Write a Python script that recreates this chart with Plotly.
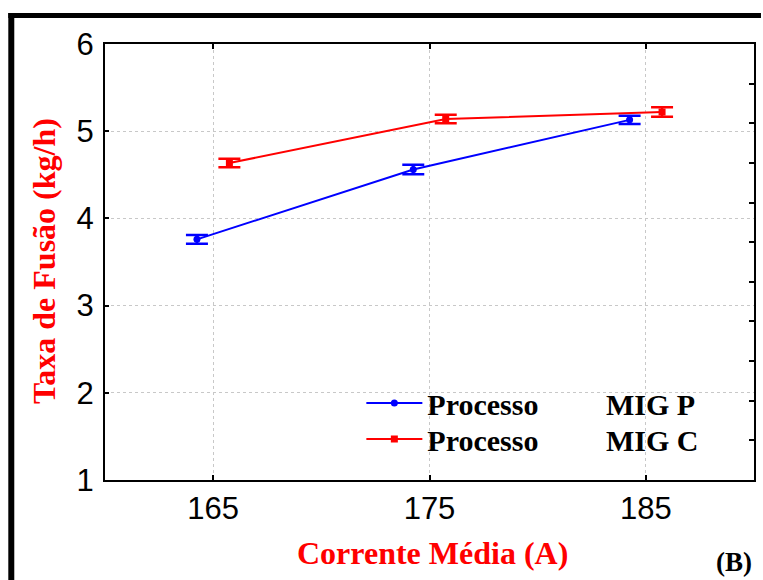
import plotly.graph_objects as go

# Data
series_names = ["Processo\u00a0\u00a0\u00a0\u00a0\u00a0\u00a0\u00a0\u00a0\u00a0MIG P",
                "Processo\u00a0\u00a0\u00a0\u00a0\u00a0\u00a0\u00a0\u00a0\u00a0MIG C"]
x_mig_p = [164.25, 174.25, 184.25]
y_mig_p = [3.76, 4.56, 5.13]
err_mig_p = [0.05, 0.055, 0.048]

x_mig_c = [165.75, 175.75, 185.75]
y_mig_c = [4.635, 5.14, 5.22]
err_mig_c = [0.048, 0.05, 0.055]

x_ticks = [165, 175, 185]
y_ticks = [1, 2, 3, 4, 5, 6]

x_title = "Corrente Média (A)"
y_title = "Taxa de Fusão (kg/h)"
panel_label = "(B)"

serif = "Liberation Serif, Times New Roman, serif"
sans = "Liberation Sans, Arial, sans-serif"

fig = go.Figure()
fig.add_trace(go.Scatter(
    x=x_mig_p, y=y_mig_p, name=series_names[0], mode="lines+markers",
    line=dict(color="#0000ff", width=2),
    marker=dict(symbol="circle", size=7, color="#0000ff"),
    error_y=dict(type="data", array=err_mig_p, color="#0000ff", thickness=2.5, width=11),
    legend="legend",
))
fig.add_trace(go.Scatter(
    x=x_mig_c, y=y_mig_c, name=series_names[1], mode="lines+markers",
    line=dict(color="#ff0000", width=2),
    marker=dict(symbol="square", size=7, color="#ff0000"),
    error_y=dict(type="data", array=err_mig_c, color="#ff0000", thickness=2.5, width=11),
    legend="legend2",
))
# empty trace so the right-hand secondary tick axis is drawn
fig.add_trace(go.Scatter(x=[], y=[], yaxis="y2", showlegend=False, hoverinfo="skip"))

grid = dict(showgrid=True, gridcolor="#c8c8c8", gridwidth=1, griddash="dot")
legend_style = dict(xanchor="left", yanchor="middle", bgcolor="rgba(0,0,0,0)",
                    borderwidth=0, itemwidth=56,
                    font=dict(family=serif, size=30, color="black", weight="bold"))

fig.update_layout(
    width=763, height=580,
    margin=dict(l=105, r=7, t=44, b=100),
    paper_bgcolor="white", plot_bgcolor="white",
    xaxis=dict(range=[160, 190], tickvals=x_ticks, ticks="inside", ticklen=5,
               tickwidth=1.5, tickcolor="black",
               showline=True, linecolor="black", linewidth=2, mirror="ticks",
               zeroline=False, ticklabelstandoff=0,
               tickfont=dict(family=sans, size=31, color="black"), **grid),
    yaxis=dict(range=[1, 6], tickvals=y_ticks, ticks="inside", ticklen=4,
               tickwidth=1.5, tickcolor="black",
               showline=True, linecolor="black", linewidth=2, mirror=True,
               zeroline=False, ticklabelstandoff=3,
               tickfont=dict(family=sans, size=31, color="black"), **grid),
    yaxis2=dict(overlaying="y", side="right", range=[0, 11], dtick=1,
                ticks="inside", ticklen=5, tickwidth=1.5, tickcolor="black",
                showticklabels=False, showgrid=False, showline=False, zeroline=False),
    legend=dict(x=0.395, y=0.1766, **legend_style),
    legend2=dict(x=0.395, y=0.094, **legend_style),
    showlegend=True,
)

fig.add_annotation(text=y_title, xref="paper", yref="paper", x=-0.094, y=0.502,
                   textangle=-90, showarrow=False, xanchor="center", yanchor="middle",
                   font=dict(family=serif, size=32, color="#ff0000", weight="bold"))
fig.add_annotation(text=x_title, xref="paper", yref="paper", x=0.505, y=-0.167,
                   showarrow=False, xanchor="center", yanchor="middle",
                   font=dict(family=serif, size=32, color="#ff0000", weight="bold"))
fig.add_annotation(text=panel_label, xref="paper", yref="paper", x=0.969, y=-0.188,
                   showarrow=False, xanchor="center", yanchor="middle",
                   font=dict(family=serif, size=27, color="black", weight="bold"))

# outer frame lines (top and left) of the figure panel
px_x = lambda p: (p - 105) / 651
px_y = lambda p: (480 - p) / 436
fig.add_shape(type="rect", xref="paper", yref="paper", x0=px_x(8), x1=px_x(763),
              y0=px_y(18), y1=px_y(13), fillcolor="black", line_width=0, layer="above")
fig.add_shape(type="rect", xref="paper", yref="paper", x0=px_x(8), x1=px_x(14),
              y0=px_y(580), y1=px_y(13), fillcolor="black", line_width=0, layer="above")

fig.write_html("out.html", config={"displayModeBar": False},
               post_script="document.body.style.margin='0';document.body.style.overflow='hidden';")
